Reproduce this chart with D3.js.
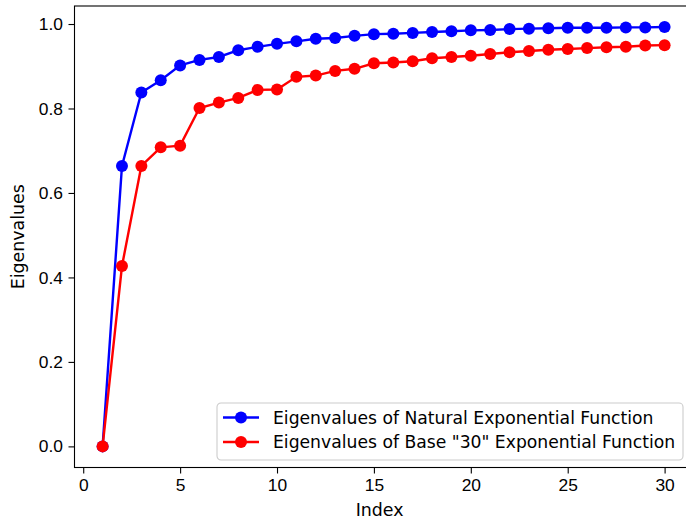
<!DOCTYPE html>
<html>
<head>
<meta charset="utf-8">
<script src="https://cdn.jsdelivr.net/npm/d3@7"></script>
<style>
  body { margin: 0; background: #fff; }
  svg { display: block; font-family: "DejaVu Sans", sans-serif; }
</style>
</head>
<body>
<svg id="chart" width="686" height="520"></svg>
<script>
// values
const indexes = d3.range(1, 31);
const naturalValues = [0.000, 0.664, 0.838, 0.867, 0.902, 0.915, 0.922, 0.938, 0.946, 0.953,
                       0.959, 0.965, 0.967, 0.972, 0.976, 0.977, 0.979, 0.981, 0.983, 0.985,
                       0.986, 0.988, 0.989, 0.990, 0.991, 0.991, 0.991, 0.992, 0.992, 0.993];
const base30Values = [0.000, 0.427, 0.664, 0.708, 0.712, 0.801, 0.814, 0.825, 0.844, 0.845,
                      0.875, 0.878, 0.889, 0.894, 0.907, 0.909, 0.912, 0.919, 0.922, 0.925,
                      0.929, 0.933, 0.936, 0.939, 0.941, 0.943, 0.945, 0.946, 0.949, 0.950];
const xTicks = [0, 5, 10, 15, 20, 25, 30];
const yTicks = [0.0, 0.2, 0.4, 0.6, 0.8, 1.0];
const seriesNames = ["Eigenvalues of Natural Exponential Function",
                     "Eigenvalues of Base \"30\" Exponential Function"];
const seriesColors = ["#0000ff", "#ff0000"];

const series = [naturalValues, base30Values].map((vals, i) => ({
    name: seriesNames[i],
    color: seriesColors[i],
    points: indexes.map((x, j) => ({x: x, y: vals[j]}))
}));

const fontSize = "17.4px";
const svg = d3.select("#chart");
const plotLeft = 74.5, plotRight = 692.7, plotTop = 6, plotBottom = 467.5;

const x = d3.scaleLinear().domain([-0.45, 31.45]).range([plotLeft, plotRight]);
const yMax = 0.993 * 1.05;
const y = d3.scaleLinear().domain([-0.05, yMax]).range([plotBottom, plotTop]);

// axes
const xAxis = svg.append("g")
    .attr("transform", "translate(0," + plotBottom + ")")
    .call(d3.axisBottom(x).tickValues(xTicks).tickFormat(d3.format("d")).tickSize(6).tickPadding(5.5));
const yAxis = svg.append("g")
    .attr("transform", "translate(" + plotLeft + ",0)")
    .call(d3.axisLeft(y).tickValues(yTicks).tickFormat(d3.format(".1f")).tickSize(6).tickPadding(5.5));

[xAxis, yAxis].forEach(a => {
    a.select(".domain").remove();
    a.selectAll("line").attr("stroke", "#000").attr("stroke-width", 1.1);
    a.selectAll("text").attr("fill", "#000").style("font-size", fontSize);
});

// frame
svg.append("rect")
    .attr("x", plotLeft).attr("y", plotTop)
    .attr("width", plotRight - plotLeft).attr("height", plotBottom - plotTop)
    .attr("fill", "none").attr("stroke", "#000").attr("stroke-width", 1.1);

// lines + markers
const line = d3.line().x(d => x(d.x)).y(d => y(d.y));
series.forEach(s => {
    const g = svg.append("g");
    g.append("path")
        .datum(s.points)
        .attr("d", line)
        .attr("fill", "none")
        .attr("stroke", s.color)
        .attr("stroke-width", 2.4);
    g.selectAll("circle")
        .data(s.points)
        .enter().append("circle")
        .attr("cx", d => x(d.x))
        .attr("cy", d => y(d.y))
        .attr("r", 6)
        .attr("fill", s.color);
});

// axis labels
svg.append("text")
    .attr("x", (plotLeft + plotRight) / 2 - 4)
    .attr("y", 516)
    .attr("text-anchor", "middle")
    .style("font-size", fontSize)
    .text("Index");

svg.append("text")
    .attr("transform", "translate(24," + ((plotTop + plotBottom) / 2) + ") rotate(-90)")
    .attr("text-anchor", "middle")
    .style("font-size", fontSize)
    .text("Eigenvalues");

// legend
const legend = svg.append("g").attr("transform", "translate(217,403)");
legend.append("rect")
    .attr("width", 466).attr("height", 57)
    .attr("rx", 4)
    .attr("fill", "#fff").attr("fill-opacity", 0.8)
    .attr("stroke", "#cccccc").attr("stroke-width", 1.1);

series.forEach((s, i) => {
    const row = legend.append("g").attr("transform", "translate(0," + (14.5 + i * 24.5) + ")");
    row.append("line")
        .attr("x1", 6).attr("x2", 42)
        .attr("stroke", s.color).attr("stroke-width", 2.4);
    row.append("circle")
        .attr("cx", 24).attr("r", 6).attr("fill", s.color);
    row.append("text")
        .attr("x", 56).attr("y", 6.2)
        .style("font-size", "17.2px")
        .text(s.name);
});
</script>
</body>
</html>
